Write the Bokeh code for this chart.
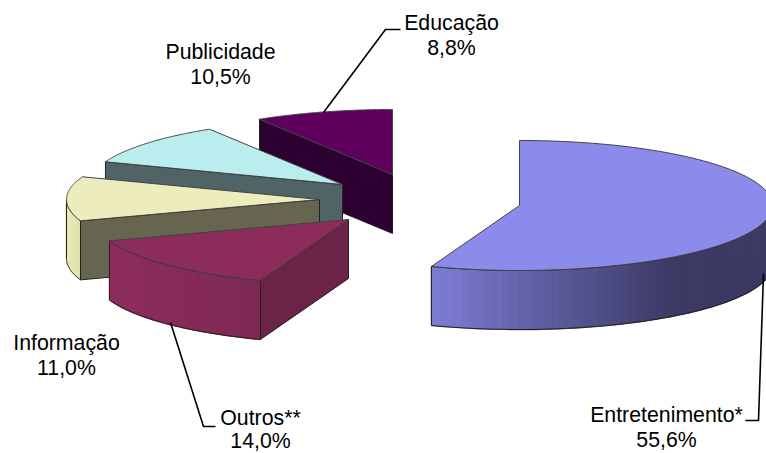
import numpy as np
from bokeh.core.properties import value
from bokeh.embed import file_html
from bokeh.models import ColumnDataSource
from bokeh.plotting import figure
from bokeh.resources import INLINE

categories = ["Entretenimento*", "Outros**", "Informação", "Publicidade", "Educação"]
shares = [55.6, 14.0, 11.0, 10.5, 8.8]

# --- drawing style and layout (reference pixel space) ---
apex_x = [519, 348, 319, 342, 392]
apex_y = [205, 219, 199, 184, 174]
top_colors = ["#8A8BEB", "#8C2C5A", "#ECECBC", "#BAEDED", "#5F005F"]
radial_colors = [None, "#6B2347", "#666650", "#506468", "#2D0032"]
label_x = [666, 260, 66, 220, 451]
label_y = [414, 417, 342, 51, 22]
value_y = [439, 440, 367, 76, 47]
RX, RY, DEPTH = 253, 65, 59
FONT = value("Liberation Sans")
EDGE = "#222222"

leaders_x = [[323, 385, 400], [170, 203, 215], [763, 758, 745]]
leaders_y = [[112, 29, 29], [322, 426, 426], [273, 420, 420]]

W, H = 766, 453
p = figure(width=W, height=H, x_range=(0, 766), y_range=(453, 0),
           output_backend="svg", toolbar_location=None, min_border=0)
p.axis.visible = False
p.grid.visible = False
p.outline_line_color = None
p.background_fill_color = "white"
p.border_fill_color = "white"

cum = np.concatenate([[0], np.cumsum(shares)]) / np.sum(shares) * 2 * np.pi
starts, ends = cum[:-1], cum[1:]


def rim(ax, ay, t):
    return ax + RX * np.sin(t), ay - RY * np.cos(t)


def mix(c1, c2, f):
    a = [int(c1[i:i + 2], 16) for i in (1, 3, 5)]
    b = [int(c2[i:i + 2], 16) for i in (1, 3, 5)]
    return "#%02x%02x%02x" % tuple(int(round(u + (v - u) * f)) for u, v in zip(a, b))


def outer_wall(ax, ay, t0, t1, c_start, c_end, c_hold=1.0):
    ts = np.linspace(t0, t1, 61)
    xs, ys = rim(ax, ay, ts)
    span = xs[-1] - xs[0]
    sx, sy, colors = [], [], []
    for i in range(len(ts) - 1):
        sx.append([xs[i], xs[i + 1], xs[i + 1], xs[i]])
        sy.append([ys[i], ys[i + 1], ys[i + 1] + DEPTH, ys[i] + DEPTH])
        f = min(1.0, ((xs[i] - xs[0]) / span) / c_hold)
        colors.append(mix(c_start, c_end, f))
    src = ColumnDataSource(dict(x=sx, y=sy, c=colors))
    p.patches("x", "y", source=src, fill_color="c", line_color="c", line_width=1.5)
    p.line(list(xs[::-1]) + list(xs) + [xs[-1]],
           list(ys[::-1]) + list(ys + DEPTH) + [ys[-1]],
           line_color=EDGE, line_width=1)


def radial_wall(ax, ay, t, color):
    x, y = rim(ax, ay, t)
    p.patch([ax, x, x, ax], [ay, y, y + DEPTH, ay + DEPTH],
            fill_color=color, line_color=EDGE, line_width=1)


def top_face(ax, ay, t0, t1, color):
    ts = np.linspace(t0, t1, 121)
    xs, ys = rim(ax, ay, ts)
    p.patch([ax] + list(xs), [ay] + list(ys), fill_color=color,
            line_color="#444444", line_width=1)


# back to front: Educação, Publicidade, Informação, Outros, Entretenimento
radial_wall(apex_x[4], apex_y[4], starts[4], radial_colors[4])
top_face(apex_x[4], apex_y[4], starts[4], ends[4], top_colors[4])
radial_wall(apex_x[3], apex_y[3], starts[3], radial_colors[3])
top_face(apex_x[3], apex_y[3], starts[3], ends[3], top_colors[3])
outer_wall(apex_x[2], apex_y[2], starts[2], np.pi * 1.5, "#DEDEAE", "#EAEABA")
radial_wall(apex_x[2], apex_y[2], starts[2], radial_colors[2])
top_face(apex_x[2], apex_y[2], starts[2], ends[2], top_colors[2])
radial_wall(apex_x[1], apex_y[1], starts[1], radial_colors[1])
outer_wall(apex_x[1], apex_y[1], starts[1], ends[1], "#7E2A54", "#8E2D5C")
top_face(apex_x[1], apex_y[1], starts[1], ends[1], top_colors[1])
outer_wall(apex_x[0], apex_y[0], ends[0], np.pi * 0.5, "#7D7CD3", "#3C3A64", c_hold=0.7)
top_face(apex_x[0], apex_y[0], starts[0], ends[0], top_colors[0])

# leader lines
p.multi_line(leaders_x, leaders_y, line_color="black", line_width=1.6)

# labels
pct = [f"{v:.1f}%".replace(".", ",") for v in shares]
src = ColumnDataSource(dict(x=label_x, y=label_y, n=categories, v=pct, y2=value_y))
for col, yc in (("n", "y"), ("v", "y2")):
    p.text("x", yc, text=col, source=src, text_align="center", text_baseline="middle",
           text_font=FONT, text_font_size="21.3px", text_color="black")

open("out.html", "w").write(file_html(p, INLINE))
